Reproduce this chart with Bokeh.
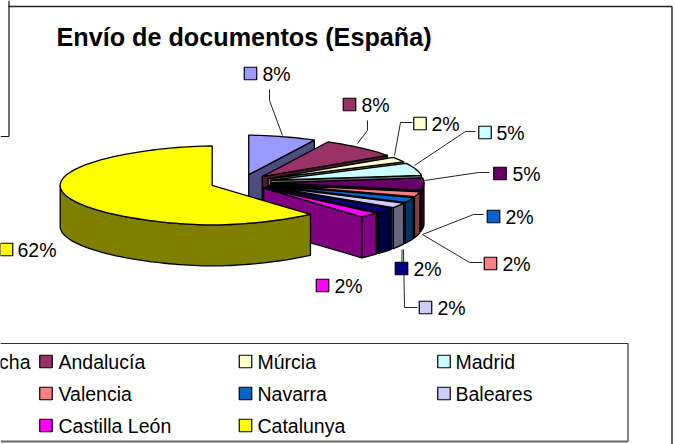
import math
from bokeh.plotting import figure
from bokeh.models import ColumnDataSource
from bokeh.core.properties import value
from bokeh.embed import file_html
from bokeh.resources import INLINE

# ---- data ----
title = "Envío de documentos (España)"
share_pct = [8, 8, 2, 5, 5, 2, 2, 2, 2, 2, 62]
share_labels = ["8%", "8%", "2%", "5%", "5%", "2%", "2%", "2%", "2%", "2%", "62%"]
legend_row1 = ["Andalucía", "Múrcia", "Madrid"]
legend_row2 = ["Valencia", "Navarra", "Baleares"]
legend_row3 = ["Castilla León", "Catalunya"]
cut_off_legend_text = "cha"

# ---- styles ----
top_colors = ["#9999FF", "#993366", "#FFFFCC", "#CCFFFF", "#660066", "#FF8080",
              "#0066CC", "#CCCCFF", "#000080", "#FF00FF", "#FFFF00"]
side_colors = ["#4D4D80", "#4D1A33", "#808066", "#668080", "#330033", "#804040",
               "#003366", "#666680", "#000040", "#800080", "#808000"]
FONT = "Liberation Sans"
FS = "19.5px"

# ---- layout of the pie, in page pixels ----
CX, CY, RX, RY, DEPTH, EXPLODE = 240.5, 182.0, 152.0, 39.5, 41.0, 31.0
SQUEEZE = 0.15  # the original's perspective pulls the rim in away from its sides
# label swatch centre per slice, and the label's text x
label_swatch = [(250, 73), (349, 104), (419.5, 123), (484.5, 132), (499.5, 173), (490, 263),
                (493, 216), (425, 307), (401, 268), (322, 285), (6, 249)]
label_text_x = [262, 361, 431, 496, 512, 502, 505, 437, 413, 334, 17]
leaders = [
    ([269, 269, 282], [89, 100, 135]),
    ([367, 367, 357], [120, 130, 143]),
    ([412, 400, 394], [122, 122, 155]),
    ([475, 465, 414], [131, 131, 165]),
    ([489, 478, 424], [172, 172, 180]),
    ([483, 473, 422], [214, 214, 234]),
    ([482, 469, 422], [262, 262, 234]),
    ([417, 404, 403], [307, 307, 249]),
    ([401.5, 401.5], [249, 262]),
]
legend_x = [(45.5, 58), (245, 257), (443.5, 455)]
legend_y = [361, 393, 425]
SW = 6.25

p = figure(width=675, height=444, x_range=(0, 675), y_range=(444, 0), toolbar_location=None,
           output_backend="svg", min_border=0, outline_line_color=None,
           margin=(0, 0, 0, 0), background_fill_color="white", border_fill_color="white")
p.axis.visible = False
p.grid.visible = False


def pt(cx, cy, deg, dz=0.0):
    r = math.radians(deg)
    s = math.sin(r)
    return cx + RX * s * abs(s) ** SQUEEZE, cy - RY * math.cos(r) + dz


xs, ys, fills = [], [], []
total = sum(share_pct)
a = 0.0
for i, v in enumerate(share_pct):
    a0, a1 = a, a + 360.0 * v / total
    a = a1
    mid = math.radians((a0 + a1) / 2)
    cx = CX + EXPLODE * math.sin(mid)
    cy = CY - EXPLODE * 0.26 * math.cos(mid)
    # end cut face
    if 0 < a1 < 180:
        ex, ey = pt(cx, cy, a1)
        xs.append([cx, ex, ex, cx])
        ys.append([cy, ey, ey + DEPTH, cy + DEPTH])
        fills.append(side_colors[i])
    # outer wall (front half only)
    w0, w1 = max(a0, 90.0), min(a1, 270.0)
    if w1 > w0:
        n = max(2, int((w1 - w0) / 2) + 1)
        angs = [w0 + (w1 - w0) * k / (n - 1) for k in range(n)]
        top = [pt(cx, cy, t) for t in angs]
        bot = [pt(cx, cy, t, DEPTH) for t in reversed(angs)]
        xs.append([q[0] for q in top + bot])
        ys.append([q[1] for q in top + bot])
        fills.append(side_colors[i])
    # top face
    n = max(2, int((a1 - a0) / 2) + 1)
    arc = [pt(cx, cy, a0 + (a1 - a0) * k / (n - 1)) for k in range(n)]
    xs.append([cx] + [q[0] for q in arc])
    ys.append([cy] + [q[1] for q in arc])
    fills.append(top_colors[i])

# leader lines sit under the pie's label swatches
for lx, ly in leaders:
    p.line(lx, ly, line_color="#222222", line_width=1)

p.patches(xs="xs", ys="ys", fill_color="fills", line_color="black", line_width=1.3,
          line_join="round", source=ColumnDataSource(dict(xs=xs, ys=ys, fills=fills)))

# frame lines
p.line([8, 671.5], [6, 6], line_color="#222222", line_width=1.4)
p.line([671.5, 671.5], [6, 444], line_color="#222222", line_width=1.4)
p.line([8.5, 8.5], [0, 136], line_color="#111111", line_width=1.2)
p.line([0, 8.5], [136, 136], line_color="#111111", line_width=1.2)

# legend box
p.line([0, 627.5, 627.5], [343, 343, 441], line_color="#333333", line_width=1.2)
p.line([0, 627.5], [441, 441], line_color="#666666", line_width=1.8)


def swatch(x, y, color):
    p.quad(left=x - SW, right=x + SW, top=y - SW, bottom=y + SW, fill_color=color,
           line_color="black", line_width=1.2)


def label(x, y, txt, align="left"):
    p.text(x=[x], y=[y], text=[txt], text_font=value(FONT), text_font_size=FS,
           text_baseline="middle", text_align=align, text_color="black")


for (sx, sy), tx, t, c in zip(label_swatch, label_text_x, share_labels, top_colors):
    swatch(sx, sy, c)
    label(tx, sy + 0.5, t)

legend_rows = [legend_row1, legend_row2, legend_row3]
legend_colors = [[top_colors[1], top_colors[2], top_colors[3]],
                 [top_colors[5], top_colors[6], top_colors[7]],
                 [top_colors[9], top_colors[10]]]
for row, cols, y in zip(legend_rows, legend_colors, legend_y):
    for t, c, (sx, tx) in zip(row, cols, legend_x):
        swatch(sx, y, c)
        label(tx, y + 0.5, t)
label(30, legend_y[0] + 0.5, cut_off_legend_text, "right")

p.text(x=[56], y=[36.5], text=[title], text_font=value(FONT), text_font_size="25.2px",
       text_font_style="bold", text_baseline="middle", text_align="left", text_color="black")

open("out.html", "w").write(file_html(p, INLINE))
